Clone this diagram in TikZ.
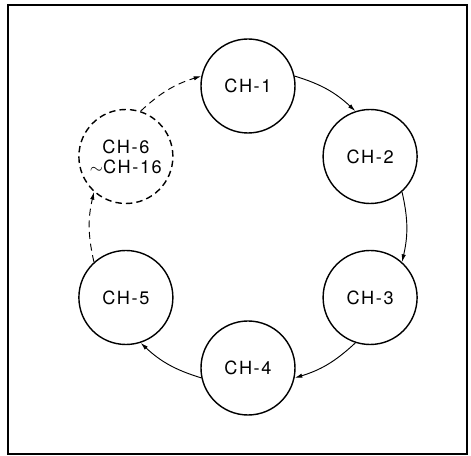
\documentclass[tikz,border=0pt]{standalone}
\usepackage{fontspec}
\newfontfamily\chfont[LetterSpace=9]{TeX Gyre Heros}
\usetikzlibrary{arrows.meta}

\begin{document}
\begin{tikzpicture}[x=0.03cm, y=0.03cm,
  chan/.style={circle, draw, line width=1.2pt, minimum size=2.82cm, inner sep=0pt,
    font=\chfont\fontsize{15.5}{17}\selectfont},
  chanoff/.style={chan, dash pattern=on 5.5pt off 3.5pt, align=center},
  link/.style={-{Latex[length=2.3mm,width=1.3mm]}, line width=0.8pt},
  linkoff/.style={link, dash pattern=on 6pt off 4pt}]
\useasboundingbox (-248,-229) rectangle (223,227);
\draw [line width=1.1pt] (-240,-227) rectangle (219,222);
\node [chan] (ch1) at (90:141) {CH-1};
\node [chan] (ch2) at (30:141) {CH-2};
\node [chan] (ch3) at (-30:141) {CH-3};
\node [chan] (ch4) at (-90:141) {CH-4};
\node [chan] (ch5) at (-150:141) {CH-5};
\node [chanoff] (ch6) at (150:141) {CH-6\\$\sim$CH-16};
\draw [link] (ch1.12) to [out=-17,in=137] (ch2.108);
\draw [link] (ch2.-48) to [out=-77,in=77] (ch3.48);
\draw [link] (ch3.-108) to [out=-137,in=17] (ch4.-12);
\draw [link] (ch4.-168) to [out=163,in=-43] (ch5.-72);
\draw [linkoff] (ch5.132) to [out=103,in=-103] (ch6.228);
\draw [linkoff] (ch6.72) to [out=43,in=197] (ch1.168);
\end{tikzpicture}
\end{document}
